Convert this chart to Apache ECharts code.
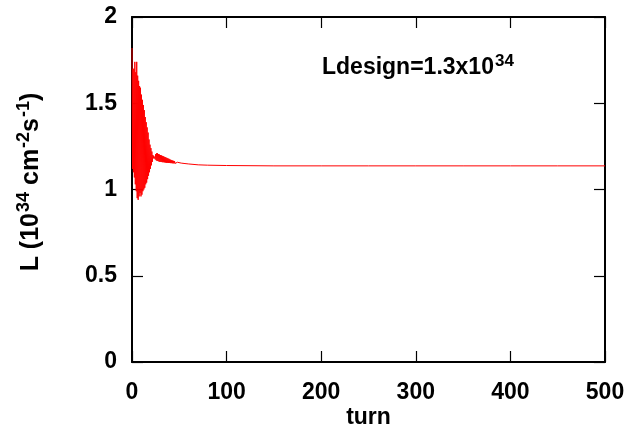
<!DOCTYPE html>
<html>
<head>
<meta charset="utf-8">
<script src="https://cdn.jsdelivr.net/npm/echarts@6/dist/echarts.min.js"></script>
<style>
html,body{margin:0;padding:0;background:#fff;}
#chart{width:633px;height:436px;}
</style>
</head>
<body>
<div id="chart"></div>
<script>
// turn values (x) and luminosity L (y, in 10^34 cm^-2 s^-1)
var earlyTurns = [0,0.5,1,1.5,2,2.5,3,3.5,4,4.5,5,5.5,6,6.5,7,7.5,8,8.5,9,9.5,
  10,10.5,11,11.5,12,12.5,13,13.5,14,14.5,15,15.5,16,16.5,17,17.5,18,18.5,19,19.5,
  20,20.5,21,21.5,22,22.5,23,23.5,24,24.5,25,25.5,26,26.5,27,27.5,28,28.5,29,29.5,
  30,30.5,31,31.5,32,32.5,33,33.5,34,34.5,35,35.5,36,36.5,37,37.5,38,38.5,39,39.5,
  40,40.5,41,41.5,42,42.5,43,43.5,44,44.5,45,45.5,46,46.5,47,47.5,48,48.5,49,49.5,50];
var earlyLum = [1.82,1.12,1.70,1.10,1.70,1.07,1.74,1.03,1.68,0.99,1.74,0.95,1.66,0.94,1.63,0.96,1.60,0.98,1.59,0.96,
  1.55,0.97,1.52,0.99,1.49,1.00,1.46,1.01,1.42,1.03,1.39,1.04,1.36,1.06,1.33,1.08,1.29,1.10,1.26,1.12,
  1.24,1.14,1.22,1.16,1.20,1.18,1.195,1.185,1.20,1.175,1.205,1.17,1.21,1.165,1.21,1.165,1.205,1.162,1.203,1.16,
  1.20,1.16,1.198,1.159,1.195,1.158,1.193,1.158,1.19,1.157,1.188,1.156,1.185,1.155,1.183,1.155,1.18,1.154,1.178,1.154,
  1.175,1.153,1.172,1.153,1.17,1.152,1.168,1.152,1.166,1.151,1.164,1.151,1.162,1.15,1.16,1.15,1.158,1.149,1.157,1.149,1.155];
var lateTurns = [52,52.5,55,55.5,60,60.5,70,80,100,150,200,250,300,350,400,450,500];
var lateLum = [1.153,1.147,1.151,1.146,1.148,1.145,1.143,1.141,1.139,1.137,1.137,1.137,1.137,1.137,1.137,1.137,1.137];
var xTicks = [0,100,200,300,400,500];
var yTicks = [0,0.5,1,1.5,2];

var turns = earlyTurns.concat(lateTurns);
var lum = earlyLum.concat(lateLum);
var seriesData = turns.map(function(t,i){return [t, lum[i]];});

var FONT = 'Liberation Sans, Arial, sans-serif';
var chart = echarts.init(document.getElementById('chart'), null, {renderer:'canvas'});

function xAxisBase(pos, showLabel){
  return {
    type:'value', position:pos, min:xTicks[0], max:xTicks[xTicks.length-1], interval:xTicks[1]-xTicks[0],
    axisLine:{show:true, onZero:false, lineStyle:{color:'#000', width:2}},
    axisTick:{show:true, inside:true, length:11, lineStyle:{color:'#000', width:1.2}},
    axisLabel:{show:showLabel, margin:19, color:'#000', fontFamily:FONT, fontWeight:'bold', fontSize:23},
    splitLine:{show:false}
  };
}
function yAxisBase(pos, showLabel){
  return {
    type:'value', position:pos, min:yTicks[0], max:yTicks[yTicks.length-1], interval:yTicks[1]-yTicks[0],
    axisLine:{show:true, onZero:false, lineStyle:{color:'#000', width:2}},
    axisTick:{show:true, inside:true, length:11, lineStyle:{color:'#000', width:1.2}},
    axisLabel:{show:showLabel, margin:15, color:'#000', fontFamily:FONT, fontWeight:'bold', fontSize:23},
    splitLine:{show:false}
  };
}
var xa = xAxisBase('bottom', true);
xa.name = 'turn'; xa.nameLocation = 'middle'; xa.nameGap = 44; xa.nameMoveOverlap = false;
xa.nameTextStyle = {color:'#000', fontFamily:FONT, fontWeight:'bold', fontSize:23};

var option = {
  animation:false,
  backgroundColor:'#fff',
  grid:{left:132, right:28, top:17, bottom:74, containLabel:false, outerBoundsMode:'none'},
  xAxis:[xa, xAxisBase('top', false)],
  yAxis:[yAxisBase('left', true), yAxisBase('right', false)],
  series:[{
    type:'line', xAxisIndex:0, yAxisIndex:0, data:seriesData,
    showSymbol:false, symbol:'none',
    lineStyle:{color:'#ff0000', width:1}, z:1
  }],
  graphic:[
    {
      type:'text', left:322, top:53,
      style:{
        text:'{m|Ldesign=1.3x10}{s|34}',
        lineHeight:26,
        rich:{
          m:{fontFamily:FONT, fontWeight:'bold', fontSize:23, fill:'#000', verticalAlign:'bottom'},
          s:{fontFamily:FONT, fontWeight:'bold', fontSize:17, fill:'#000', verticalAlign:'top', padding:[0,0,0,1]}
        }
      }
    },
    {
      type:'text', x:44, y:182, rotation:Math.PI/2,
      style:{
        text:'{m|L (10}{s|34}{m| cm}{s|-2}{m|s}{s|-1}{m|)}',
        align:'center', verticalAlign:'bottom',
        lineHeight:29,
        rich:{
          m:{fontFamily:FONT, fontWeight:'bold', fontSize:25, fill:'#000', verticalAlign:'bottom'},
          s:{fontFamily:FONT, fontWeight:'bold', fontSize:18, fill:'#000', verticalAlign:'top', padding:[0,0,0,1]}
        }
      }
    }
  ]
};
chart.setOption(option);
</script>
</body>
</html>
